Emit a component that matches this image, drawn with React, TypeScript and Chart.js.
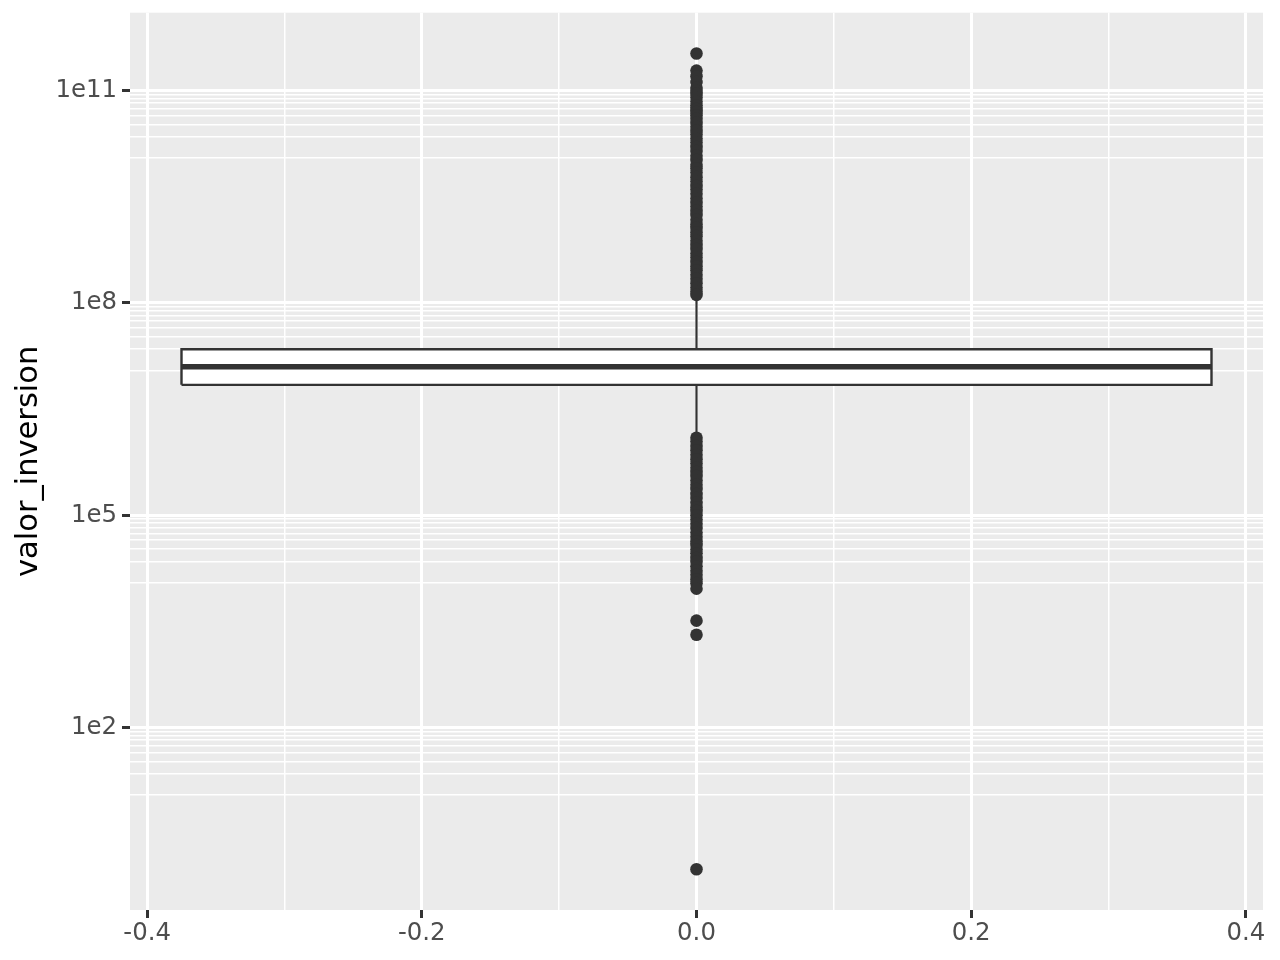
import { useEffect, useRef } from "react";
import Chart from "chart.js/auto";

// ---- Data ----
const X_CENTER = 0;
const BOX_HALF_WIDTH = 0.375;

const Q1 = 6.97e6;
const MEDIAN = 1.26e7;
const Q3 = 2.22e7;
const WHISKER_LOW = 1.32e6;
const WHISKER_HIGH = 1.22e8;

const UPPER_OUTLIERS = [
  3.35e11, 1.92e11, 1.6e11, 1.32e11, 1.1e11, 1.0e11, 9e10, 8e10, 7e10, 6.2e10,
  5.5e10, 5e10, 4.5e10, 4e10, 3.5e10, 3.1e10, 2.7e10, 2.4e10, 2.1e10, 1.85e10,
  1.6e10, 1.4e10, 1.2e10, 1.05e10, 9e9, 8e9, 7e9, 6e9, 5.2e9, 4.5e9, 4e9, 3.5e9,
  3e9, 2.6e9, 2.3e9, 2e9, 1.75e9, 1.5e9, 1.3e9, 1.15e9, 1e9, 8.8e8, 7.6e8, 6.6e8,
  5.8e8, 5e8, 4.4e8, 3.8e8, 3.3e8, 2.9e8, 2.5e8, 2.2e8, 1.9e8, 1.65e8, 1.45e8, 1.3e8,
];

const LOWER_OUTLIERS = [
  1.25e6, 1.1e6, 9.5e5, 8.3e5, 7.2e5, 6.2e5, 5.4e5, 4.7e5, 4.1e5, 3.6e5, 3.1e5,
  2.7e5, 2.35e5, 2e5, 1.75e5, 1.5e5, 1.3e5, 1.15e5, 1e5, 8.7e4, 7.6e4, 6.6e4,
  5.7e4, 5e4, 4.3e4, 3.8e4, 3.3e4, 2.9e4, 2.5e4, 2.2e4, 1.9e4, 1.65e4, 1.45e4,
  1.25e4, 1.1e4, 9.2e3, 3.25e3, 2.05e3, 1,
];

// ---- Axis breaks / labels ----
const Y_MAJOR_BREAKS = [1e2, 1e5, 1e8, 1e11];
const Y_MAJOR_LABELS = ["1e2", "1e5", "1e8", "1e11"];
const Y_MINOR_FRACTIONS = [1 / 9, 2 / 9, 3 / 9, 4 / 9, 5 / 9, 6 / 9, 7 / 9, 8 / 9];
const X_MAJOR_BREAKS = [-0.4, -0.2, 0, 0.2, 0.4];
const X_MAJOR_LABELS = ["-0.4", "-0.2", "0.0", "0.2", "0.4"];
const X_MINOR_BREAKS = [-0.3, -0.1, 0.1, 0.3];

const Y_TITLE = "valor_inversion";

const FONT = "'DejaVu Sans', sans-serif";

function isYMajor(v: number) {
  return Y_MAJOR_BREAKS.some((b) => Math.abs(b - v) / b < 1e-9);
}
function isXMajor(v: number) {
  return X_MAJOR_BREAKS.some((b) => Math.abs(b - v) < 1e-9);
}

export default function App() {
  const ref = useRef<HTMLCanvasElement | null>(null);

  useEffect(() => {
    const canvas = ref.current;
    if (!canvas) return;

    const allVals = [...UPPER_OUTLIERS, ...LOWER_OUTLIERS, Q1, Q3, MEDIAN];
    const lo = Math.log10(Math.min(...allVals));
    const hi = Math.log10(Math.max(...allVals));
    const span = hi - lo;
    const yMin = Math.pow(10, lo - 0.05 * span);
    const yMax = Math.pow(10, hi + 0.05 * span);
    const xExt = BOX_HALF_WIDTH * 1.1;

    const yTicks: number[] = [];
    Y_MAJOR_BREAKS.forEach((b) => {
      Y_MINOR_FRACTIONS.forEach((f) => yTicks.push(b * f));
      yTicks.push(b);
    });
    const xTicks = [...X_MAJOR_BREAKS, ...X_MINOR_BREAKS].sort((a, b) => a - b);

    const panelBg = {
      id: "panelBg",
      beforeDraw(chart: any) {
        const { ctx, chartArea } = chart;
        ctx.save();
        ctx.fillStyle = "#EBEBEB";
        ctx.fillRect(chartArea.left, chartArea.top, chartArea.right - chartArea.left, chartArea.bottom - chartArea.top);
        ctx.restore();
      },
    };

    const lineDs = (data: any[], width: number, order: number) => ({
      data,
      showLine: true,
      borderColor: "#333333",
      borderWidth: width,
      pointRadius: 0,
      pointHoverRadius: 0,
      fill: false,
      tension: 0,
      borderCapStyle: "butt",
      borderJoinStyle: "miter",
      order,
    });

    const chart = new Chart(canvas, {
      type: "scatter",
      data: {
        datasets: [
          {
            data: [...UPPER_OUTLIERS, ...LOWER_OUTLIERS].map((v) => ({ x: X_CENTER, y: v })),
            pointRadius: 6.3,
            pointHoverRadius: 6.3,
            pointBackgroundColor: "#333333",
            pointBorderWidth: 0,
            showLine: false,
            order: 0,
          } as any,
          lineDs(
            [
              { x: X_CENTER - BOX_HALF_WIDTH, y: MEDIAN },
              { x: X_CENTER + BOX_HALF_WIDTH, y: MEDIAN },
            ],
            5.5,
            1
          ) as any,
          lineDs(
            [
              { x: X_CENTER - BOX_HALF_WIDTH, y: Q1 },
              { x: X_CENTER + BOX_HALF_WIDTH, y: Q1 },
              { x: X_CENTER + BOX_HALF_WIDTH, y: Q3 },
              { x: X_CENTER - BOX_HALF_WIDTH, y: Q3 },
              { x: X_CENTER - BOX_HALF_WIDTH, y: Q1 },
            ],
            2.4,
            2
          ) as any,
          lineDs(
            [
              { x: X_CENTER, y: Q3 },
              { x: X_CENTER, y: WHISKER_HIGH },
            ],
            2.2,
            3
          ) as any,
          lineDs(
            [
              { x: X_CENTER, y: Q1 },
              { x: X_CENTER, y: WHISKER_LOW },
            ],
            2.2,
            4
          ) as any,
          {
            data: [
              { x: X_CENTER - BOX_HALF_WIDTH, y: Q3 },
              { x: X_CENTER + BOX_HALF_WIDTH, y: Q3 },
            ],
            showLine: true,
            borderWidth: 0,
            borderColor: "rgba(0,0,0,0)",
            backgroundColor: "#FFFFFF",
            pointRadius: 0,
            fill: { value: Q1 },
            order: 5,
          } as any,
        ],
      },
      options: {
        animation: false,
        responsive: false,
        events: [],
        layout: { padding: { top: 12.7, right: 17, left: 0, bottom: 0 } },
        plugins: {
          legend: { display: false },
          tooltip: { enabled: false },
          filler: { propagate: false },
        },
        scales: {
          x: {
            type: "linear",
            min: X_CENTER - xExt,
            max: X_CENTER + xExt,
            afterBuildTicks: (scale: any) => {
              scale.ticks = xTicks.map((v) => ({ value: v }));
            },
            afterFit: (scale: any) => {
              scale.height = 50;
              scale.paddingLeft = 0;
              scale.paddingRight = 0;
            },
            border: { display: false },
            grid: {
              color: "#FFFFFF",
              lineWidth: (ctx: any) => (ctx.tick && isXMajor(ctx.tick.value) ? 3 : 1.5),
              tickColor: (ctx: any) => (ctx.tick && isXMajor(ctx.tick.value) ? "#333333" : "rgba(0,0,0,0)"),
              tickWidth: 3,
              tickLength: 8,
              drawTicks: true,
            },
            ticks: {
              autoSkip: false,
              maxRotation: 0,
              padding: 1,
              color: "#4D4D4D",
              font: { family: FONT, size: 24.4 },
              callback: (v: any) => {
                const i = X_MAJOR_BREAKS.findIndex((b) => Math.abs(b - Number(v)) < 1e-9);
                return i >= 0 ? X_MAJOR_LABELS[i] : "";
              },
            },
          },
          y: {
            type: "logarithmic",
            min: yMin,
            max: yMax,
            afterBuildTicks: (scale: any) => {
              scale.ticks = yTicks.map((v) => ({ value: v }));
            },
            afterFit: (scale: any) => {
              scale.width = 130;
              scale.paddingTop = 0;
              scale.paddingBottom = 0;
            },
            border: { display: false },
            grid: {
              color: "#FFFFFF",
              lineWidth: (ctx: any) => (ctx.tick && isYMajor(ctx.tick.value) ? 3 : 1.5),
              tickColor: (ctx: any) => (ctx.tick && isYMajor(ctx.tick.value) ? "#333333" : "rgba(0,0,0,0)"),
              tickWidth: 3,
              tickLength: 8,
              drawTicks: true,
            },
            ticks: {
              autoSkip: false,
              padding: 5,
              color: "#4D4D4D",
              font: { family: FONT, size: 24.4 },
              callback: (v: any) => {
                const i = Y_MAJOR_BREAKS.findIndex((b) => Math.abs(b - Number(v)) / b < 1e-9);
                return i >= 0 ? Y_MAJOR_LABELS[i] : "";
              },
            },
            title: {
              display: true,
              text: Y_TITLE,
              color: "#000000",
              font: { family: FONT, size: 30.5 },
              padding: { top: 11, bottom: 0 },
            },
          },
        },
      } as any,
      plugins: [panelBg],
    });

    return () => chart.destroy();
  }, []);

  return (
    <div style={{ position: "fixed", left: 0, top: 0, width: 1280, height: 960, background: "#FFFFFF" }}>
      <canvas ref={ref} width={1280} height={960} style={{ display: "block" }} />
    </div>
  );
}
